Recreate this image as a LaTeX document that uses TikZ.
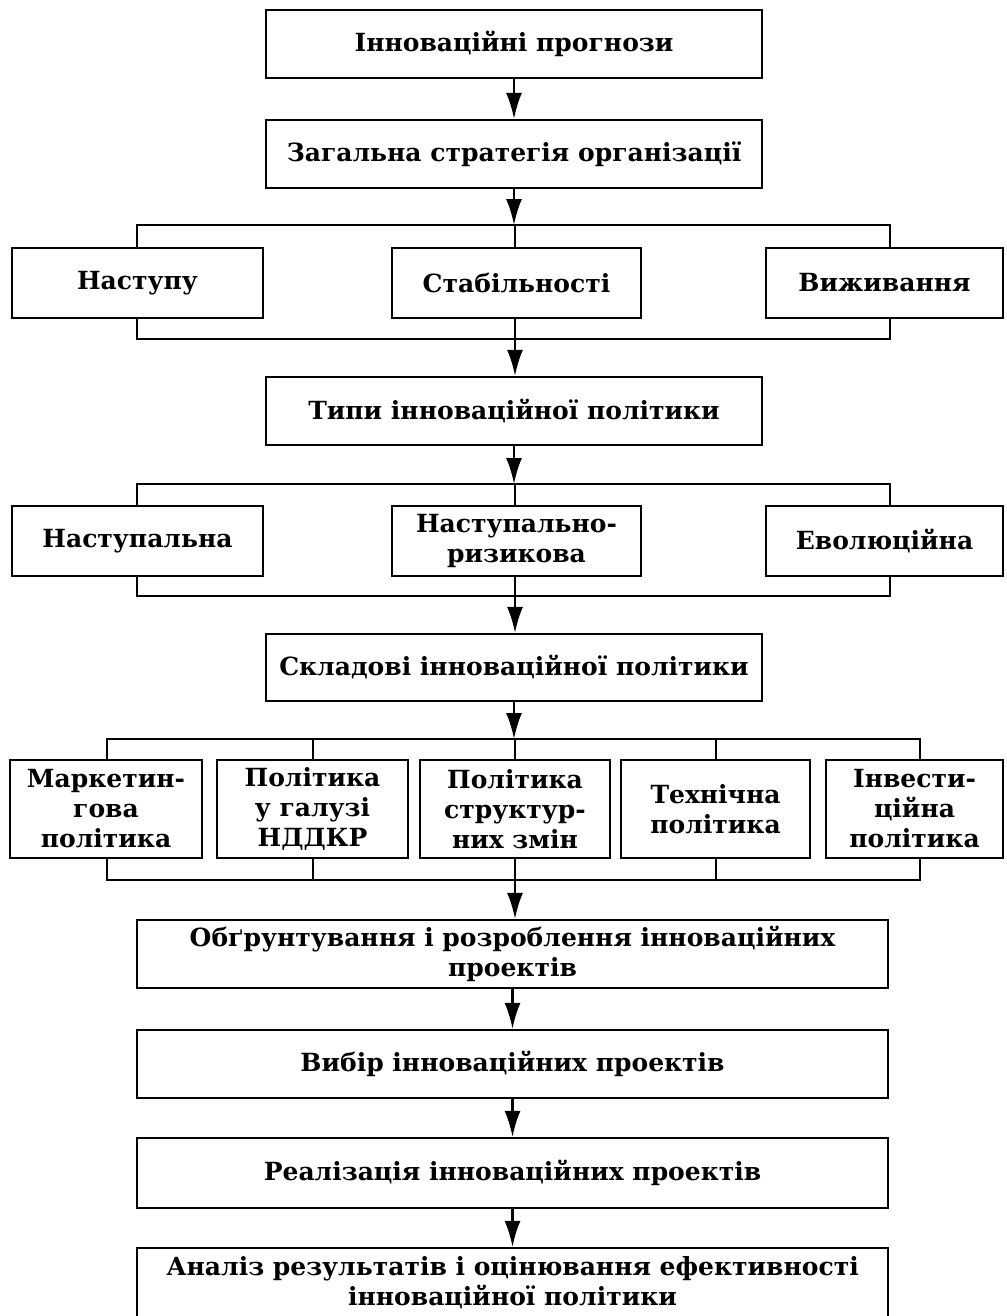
\documentclass[tikz,border=0pt]{standalone}
\usepackage{fontspec}
\setmainfont{DejaVu Serif}
\usetikzlibrary{arrows.meta}
\begin{document}
\begin{tikzpicture}[x=1pt,y=-1pt,
  box/.style={draw, line width=2.2pt, inner sep=1pt, align=center,
              font=\fontsize{25}{30}\selectfont\bfseries},
  ln/.style={line width=2.2pt},
  arr/.style={line width=2.2pt, -{Latex[length=26pt,width=16pt]}}]
\clip (0,0) rectangle (1006,1316);
\fill[white] (0,0) rectangle (1006,1316);

% main column
\node[box, minimum width=496pt, minimum height=68pt] (prog) at (514,44) {Інноваційні прогнози};
\node[box, minimum width=496pt, minimum height=68pt] (zag) at (514,154) {Загальна стратегія організації};

% row 1
\node[box, minimum width=251pt, minimum height=70pt] (nast) at (137.5,283) {Наступу};
\node[box, minimum width=249pt, minimum height=70pt] (stab) at (516.5,283) {Стабільності};
\node[box, minimum width=237pt, minimum height=70pt] (vyzh) at (884.5,283) {Виживання};

\node[box, minimum width=496pt, minimum height=68pt] (typy) at (514,411) {Типи інноваційної політики};

% row 2
\node[box, minimum width=251pt, minimum height=70pt] (nastp) at (137.5,541) {Наступальна};
\node[box, minimum width=249pt, minimum height=70pt] (nastr) at (516.5,541) {Наступально-\\ризикова};
\node[box, minimum width=237pt, minimum height=70pt] (evol) at (884.5,541) {Еволюційна};

\node[box, minimum width=496pt, minimum height=67pt] (sklad) at (514,667.5) {Складові інноваційної політики};

% row 3
\node[box, minimum width=192pt, minimum height=98pt] (mark) at (106,809) {Маркетин-\\гова\\політика};
\node[box, minimum width=191pt, minimum height=98pt] (ndd) at (312.5,809) {Політика\\у галузі\\НДДКР};
\node[box, minimum width=190pt, minimum height=98pt] (strk) at (515,809) {Політика\\структур-\\них змін};
\node[box, minimum width=189pt, minimum height=98pt] (tekh) at (715.5,809) {Технічна\\політика};
\node[box, minimum width=177pt, minimum height=98pt] (inv) at (914.5,809) {Інвести-\\ційна\\політика};

% lower column
\node[box, minimum width=751pt, minimum height=68pt] (obg) at (512.5,954) {Обґрунтування і розроблення інноваційних\\проектів};
\node[box, minimum width=751pt, minimum height=68pt] (vyb) at (512.5,1064) {Вибір інноваційних проектів};
\node[box, minimum width=751pt, minimum height=70pt] (real) at (512.5,1173) {Реалізація інноваційних проектів};
\node[box, minimum width=751pt, minimum height=70pt] (anal) at (512.5,1283) {Аналіз результатів і оцінювання ефективності\\інноваційної політики};

% bracket coordinates
\coordinate (a1l) at (137,225);  \coordinate (a1m) at (515,225);  \coordinate (a1r) at (890,225);
\coordinate (b1l) at (137,339);  \coordinate (b1m) at (515,339);  \coordinate (b1r) at (890,339);
\coordinate (a2l) at (137,484);  \coordinate (a2m) at (515,484);  \coordinate (a2r) at (890,484);
\coordinate (b2l) at (137,596);  \coordinate (b2m) at (515,596);  \coordinate (b2r) at (890,596);
\coordinate (a3a) at (107,739);  \coordinate (a3b) at (313,739);  \coordinate (a3c) at (515,739);
\coordinate (a3d) at (716,739);  \coordinate (a3e) at (920,739);
\coordinate (b3a) at (107,880);  \coordinate (b3b) at (313,880);  \coordinate (b3c) at (515,880);
\coordinate (b3d) at (716,880);  \coordinate (b3e) at (920,880);

% arrows main
\draw[arr] (prog.south) -- (zag.north);
\draw[arr] (zag.south) -- (zag.south |- a1m);

% row 1 brackets
\draw[ln] (nast.north -| a1l) -- (a1l) -- (a1r) -- (vyzh.north -| a1r);
\draw[ln] (a1m) -- (stab.north -| a1m);
\draw[ln] (nast.south -| b1l) -- (b1l) -- (b1r) -- (vyzh.south -| b1r);
\draw[arr] (stab.south -| b1m) -- (typy.north -| b1m);

% row 2 brackets
\draw[arr] (typy.south) -- (typy.south |- a2m);
\draw[ln] (nastp.north -| a2l) -- (a2l) -- (a2r) -- (evol.north -| a2r);
\draw[ln] (a2m) -- (nastr.north -| a2m);
\draw[ln] (nastp.south -| b2l) -- (b2l) -- (b2r) -- (evol.south -| b2r);
\draw[arr] (nastr.south -| b2m) -- (sklad.north -| b2m);

% row 3 brackets
\draw[arr] (sklad.south) -- (sklad.south |- a3c);
\draw[ln] (mark.north -| a3a) -- (a3a) -- (a3e) -- (inv.north -| a3e);
\draw[ln] (a3b) -- (ndd.north -| a3b);
\draw[ln] (a3c) -- (strk.north -| a3c);
\draw[ln] (a3d) -- (tekh.north -| a3d);
\draw[ln] (mark.south -| b3a) -- (b3a) -- (b3e) -- (inv.south -| b3e);
\draw[ln] (b3b) -- (ndd.south -| b3b);
\draw[ln] (tekh.south -| b3d) -- (b3d);
\draw[arr] (strk.south -| b3c) -- (obg.north -| b3c);

% lower arrows
\draw[arr] (obg.south) -- (vyb.north);
\draw[arr] (vyb.south) -- (real.north);
\draw[arr] (real.south) -- (anal.north);
\end{tikzpicture}
\end{document}
